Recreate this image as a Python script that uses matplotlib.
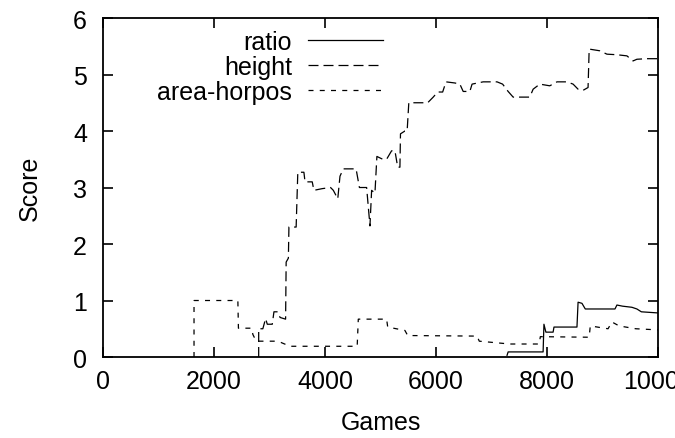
import matplotlib
matplotlib.use("Agg")
import matplotlib.pyplot as plt

plt.rcParams['font.family'] = ['Liberation Sans', 'DejaVu Sans']

# ratio score over training games
ratio_games = [7280, 7300, 7930, 7945, 7980, 8110, 8126, 8540, 8560, 8630, 8690,
               9225, 9260, 9360, 9530, 9620, 9700, 10000]
ratio_score = [0.03, 0.09, 0.09, 0.58, 0.44, 0.44, 0.53, 0.53, 0.97, 0.95, 0.85,
               0.85, 0.92, 0.90, 0.88, 0.85, 0.80, 0.78]

# height score over training games
height_games = [2805, 2805, 2880, 2930, 2960, 3050, 3080, 3150, 3190, 3290, 3300,
                3340, 3350, 3480, 3510, 3620, 3640, 3770, 3800, 3950, 4100, 4150,
                4230, 4270, 4330, 4560, 4620, 4750, 4810, 4840, 4900, 4935, 5040,
                5110, 5200, 5260, 5310, 5350, 5360, 5440, 5480, 5510, 5850, 5950,
                6030, 6120, 6180, 6340, 6430, 6490, 6610, 6650, 6850, 7100, 7200,
                7300, 7390, 7690, 7750, 7870, 8050, 8180, 8360, 8470, 8560, 8650,
                8740, 8760, 8950, 9080, 9260, 9440, 9550, 9620, 9800, 10000]
height_score = [0.0, 0.5, 0.5, 0.68, 0.58, 0.58, 0.8, 0.8, 0.7, 0.67, 1.68,
                1.75, 2.3, 2.3, 3.27, 3.27, 3.1, 3.1, 2.95, 2.98, 3.0, 2.95,
                2.8, 3.2, 3.33, 3.33, 3.0, 3.0, 2.32, 2.95, 2.9, 3.55, 3.5,
                3.5, 3.65, 3.65, 3.36, 3.36, 3.95, 4.0, 4.0, 4.5, 4.5, 4.6,
                4.69, 4.69, 4.87, 4.85, 4.83, 4.7, 4.7, 4.83, 4.87, 4.87, 4.83,
                4.7, 4.6, 4.6, 4.74, 4.83, 4.8, 4.87, 4.87, 4.83, 4.74, 4.72,
                4.77, 5.45, 5.42, 5.36, 5.35, 5.33, 5.24, 5.27, 5.28, 5.28]

# area-horpos score over training games
area_games = [1640, 1640, 2430, 2440, 2680, 2700, 2760, 3100, 3200, 3370, 4580,
              4600, 5110, 5130, 5440, 5490, 6740, 6780, 7330, 7860, 7880, 8760,
              8780, 9100, 9170, 9300, 9600, 10000]
area_score = [0.0, 1.0, 1.0, 0.51, 0.51, 0.4, 0.28, 0.28, 0.26, 0.19, 0.19,
              0.67, 0.67, 0.53, 0.47, 0.38, 0.37, 0.28, 0.23, 0.23, 0.36, 0.35,
              0.55, 0.5, 0.62, 0.55, 0.5, 0.48]

x_ticks = [0, 2000, 4000, 6000, 8000, 10000]
y_ticks = [0, 1, 2, 3, 4, 5, 6]

FS = 18

fig = plt.figure(figsize=(6.75, 4.39), dpi=100)
ax = fig.add_axes([0.1526, 0.1845, 0.8222, 0.7722])

lw = 0.9
ax.plot(ratio_games, ratio_score, color='black', lw=lw, label='ratio')
ax.plot(height_games, height_score, color='black', lw=lw,
        dashes=(8, 4), label='height')
ax.plot(area_games, area_score, color='black', lw=lw,
        dashes=(4, 5), label='area-horpos')

ax.set_xlim(0, 10000)
ax.set_ylim(0, 6)
ax.set_xticks(x_ticks)
ax.set_yticks(y_ticks)
ax.set_xticklabels([str(v) for v in x_ticks])
ax.tick_params(direction='in', length=7, width=1.2, labelsize=FS,
               top=True, right=True)
ax.tick_params(axis='x', pad=8.5)
ax.tick_params(axis='y', pad=11.5)
for s in ax.spines.values():
    s.set_linewidth(1.3)

ax.set_xlabel('Games', fontsize=FS)
ax.set_ylabel('Score', fontsize=FS)
ax.xaxis.set_label_coords(0.5, -0.157)
ax.yaxis.set_label_coords(-0.11, 0.5)

leg = ax.legend(loc='upper right', bbox_to_anchor=(0.5045, 0.966), frameon=False,
                fontsize=FS, markerfirst=False, handlelength=3.0,
                handletextpad=0.64, labelspacing=0.04, borderaxespad=0,
                borderpad=0)
for t in leg.get_texts():
    t.set_ha('right')

fig.savefig('out.png', dpi=100)
